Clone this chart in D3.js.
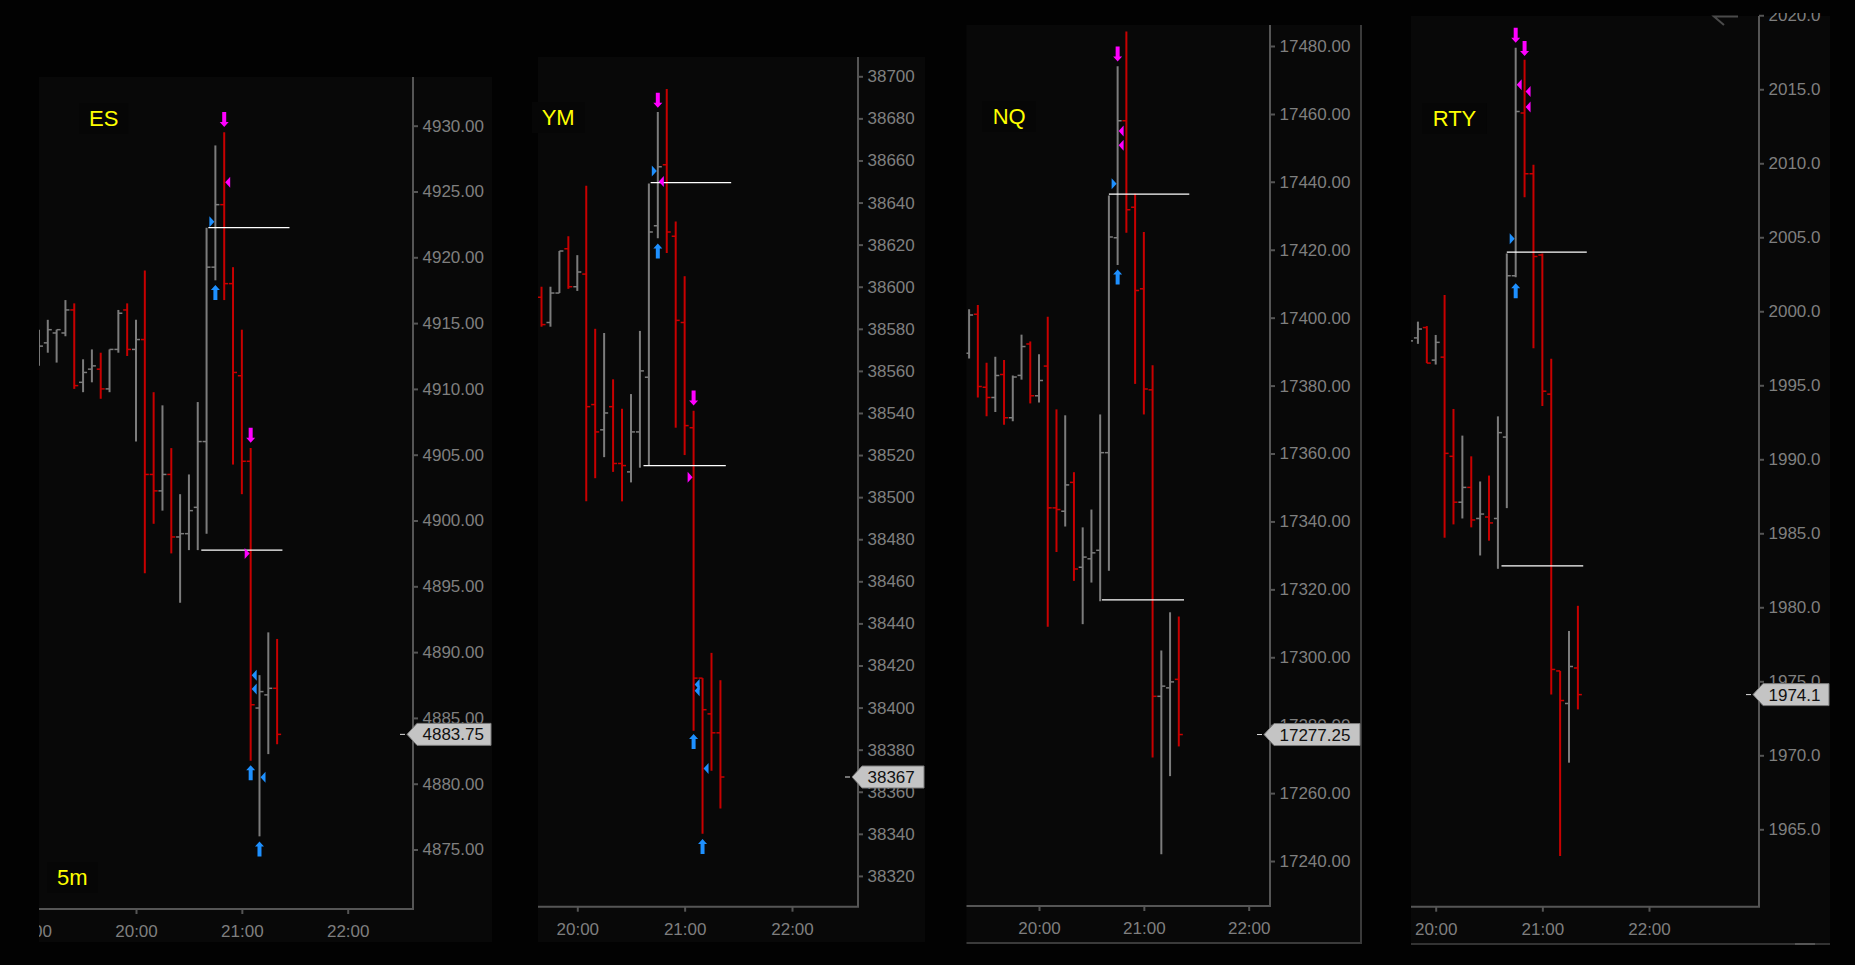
<!DOCTYPE html>
<html>
<head>
<meta charset="utf-8">
<script src="https://cdn.jsdelivr.net/npm/d3@7"></script>
<style>
html, body { margin: 0; padding: 0; background: #020202; overflow: hidden; }
svg { display: block; }
</style>
</head>
<body>
<svg id="chart" width="1855" height="965"></svg>
<script>
// 5 minute bars: [time, open, high, low, close]
const esBars = [
  ["19:05", 4913.0, 4914.5, 4911.75, 4913.25],
  ["19:10", 4913.5, 4915.25, 4912.75, 4914.5],
  ["19:15", 4914.25, 4914.5, 4912.0, 4914.5],
  ["19:20", 4914.25, 4916.75, 4914.0, 4916.0],
  ["19:25", 4916.0, 4916.5, 4910.0, 4910.25],
  ["19:30", 4910.5, 4912.25, 4909.75, 4911.25],
  ["19:35", 4911.5, 4913.0, 4910.5, 4911.75],
  ["19:40", 4911.5, 4912.75, 4909.25, 4910.0],
  ["19:45", 4910.0, 4913.0, 4909.75, 4913.0],
  ["19:50", 4913.0, 4916.0, 4912.75, 4915.75],
  ["19:55", 4916.0, 4916.5, 4912.5, 4913.0],
  ["20:00", 4913.0, 4915.25, 4906.0, 4913.75],
  ["20:05", 4913.75, 4919.0, 4896.0, 4903.5],
  ["20:10", 4903.5, 4909.75, 4899.75, 4902.25],
  ["20:15", 4902.25, 4908.75, 4900.75, 4903.5],
  ["20:20", 4903.5, 4905.5, 4897.5, 4898.75],
  ["20:25", 4898.75, 4902.0, 4893.75, 4899.0],
  ["20:30", 4899.0, 4903.5, 4897.75, 4900.75],
  ["20:35", 4901.0, 4909.0, 4897.75, 4906.0],
  ["20:40", 4906.0, 4922.25, 4899.0, 4919.25],
  ["20:45", 4919.25, 4928.5, 4918.25, 4924.0],
  ["20:50", 4924.0, 4929.5, 4916.75, 4918.0],
  ["20:55", 4918.0, 4919.25, 4904.25, 4911.25],
  ["21:00", 4911.0, 4914.5, 4902.0, 4904.5],
  ["21:05", 4904.5, 4905.5, 4881.75, 4886.0],
  ["21:10", 4885.75, 4888.25, 4876.0, 4887.0],
  ["21:15", 4886.75, 4891.5, 4882.25, 4887.25],
  ["21:20", 4887.25, 4891.0, 4883.0, 4883.75]
];
const ymBars = [
  ["19:40", 38595, 38600, 38581, 38582],
  ["19:45", 38583, 38600, 38581, 38597],
  ["19:50", 38597, 38617, 38597, 38617],
  ["19:55", 38618, 38624, 38599, 38600],
  ["20:00", 38600, 38615, 38598, 38607],
  ["20:05", 38606, 38648, 38498, 38543],
  ["20:10", 38544, 38580, 38509, 38531],
  ["20:15", 38532, 38578, 38519, 38540],
  ["20:20", 38543, 38556, 38512, 38516],
  ["20:25", 38516, 38542, 38498, 38515],
  ["20:30", 38512, 38549, 38507, 38531],
  ["20:35", 38531, 38579, 38514, 38560],
  ["20:40", 38557, 38649, 38515, 38626],
  ["20:45", 38629, 38683, 38623, 38657],
  ["20:50", 38658, 38694, 38616, 38626],
  ["20:55", 38624, 38631, 38533, 38584],
  ["21:00", 38583, 38605, 38520, 38534],
  ["21:05", 38533, 38541, 38389, 38414],
  ["21:10", 38414, 38414, 38340, 38399],
  ["21:15", 38397, 38426, 38370, 38388],
  ["21:20", 38388, 38413, 38352, 38367]
];
const nqBars = [
  ["19:20", 17389.5, 17402.5, 17388.0, 17400.75],
  ["19:25", 17401.0, 17403.75, 17376.5, 17379.75],
  ["19:30", 17379.5, 17386.75, 17371.0, 17376.5],
  ["19:35", 17376.5, 17388.5, 17372.25, 17383.0],
  ["19:40", 17383.25, 17387.5, 17368.5, 17370.5],
  ["19:45", 17370.5, 17383.0, 17369.5, 17382.5],
  ["19:50", 17383.0, 17395.0, 17381.75, 17391.5],
  ["19:55", 17392.25, 17393.0, 17374.75, 17377.0],
  ["20:00", 17377.0, 17389.25, 17375.0, 17381.5],
  ["20:05", 17385.75, 17400.25, 17309.0, 17344.0],
  ["20:10", 17344.0, 17373.0, 17331.0, 17343.5],
  ["20:15", 17343.0, 17371.25, 17338.5, 17350.75],
  ["20:20", 17351.5, 17354.5, 17322.5, 17326.0],
  ["20:25", 17326.5, 17338.25, 17309.75, 17329.5],
  ["20:30", 17329.0, 17343.5, 17322.0, 17330.75],
  ["20:35", 17331.5, 17371.5, 17316.5, 17360.25],
  ["20:40", 17360.25, 17436.0, 17325.5, 17423.75],
  ["20:45", 17423.5, 17474.0, 17415.5, 17458.0],
  ["20:50", 17458.0, 17484.25, 17425.0, 17431.75],
  ["20:55", 17432.5, 17436.5, 17380.5, 17408.0],
  ["21:00", 17408.5, 17425.25, 17371.5, 17379.0],
  ["21:05", 17378.75, 17386.0, 17270.5, 17288.5],
  ["21:10", 17288.5, 17302.0, 17242.0, 17291.5],
  ["21:15", 17291.0, 17313.25, 17265.0, 17292.75],
  ["21:20", 17293.5, 17312.0, 17273.75, 17277.25]
];
const rtyBars = [
  ["19:45", 1997.6, 1998.3, 1997.4, 1998.0],
  ["19:50", 1998.2, 1999.3, 1997.8, 1998.8],
  ["19:55", 1998.9, 1999.0, 1996.5, 1996.5],
  ["20:00", 1996.7, 1998.4, 1996.4, 1997.9],
  ["20:05", 1996.9, 2001.1, 1984.7, 1990.4],
  ["20:10", 1990.2, 1993.4, 1985.6, 1987.1],
  ["20:15", 1987.1, 1991.6, 1986.0, 1988.1],
  ["20:20", 1988.1, 1990.2, 1985.4, 1985.9],
  ["20:25", 1986.0, 1988.5, 1983.5, 1986.3],
  ["20:30", 1986.1, 1988.9, 1984.5, 1985.7],
  ["20:35", 1986.0, 1992.9, 1982.6, 1991.8],
  ["20:40", 1991.5, 2003.9, 1986.7, 2002.4],
  ["20:45", 2002.4, 2017.8, 2002.3, 2013.5],
  ["20:50", 2013.4, 2017.0, 2007.7, 2009.3],
  ["20:55", 2009.3, 2009.9, 1997.5, 2003.7],
  ["21:00", 2003.8, 2003.9, 1993.6, 1994.6],
  ["21:05", 1994.4, 1996.8, 1974.1, 1975.8],
  ["21:10", 1975.7, 1975.7, 1963.2, 1973.7],
  ["21:15", 1973.5, 1978.4, 1969.5, 1976.0],
  ["21:20", 1975.9, 1980.1, 1973.1, 1974.1]
];

// signal markers: [bar time, shape, side, price]
const esMarks = [
  ["20:50", "arrow", "sell", 4929.9],
  ["20:50", "left", "sell", 4925.7],
  ["20:45", "right", "buy", 4922.7],
  ["20:45", "arrow", "buy", 4917.9],
  ["21:05", "arrow", "sell", 4905.9],
  ["21:05", "right", "sell", 4897.5],
  ["21:05", "left", "buy", 4888.25],
  ["21:05", "left", "buy", 4887.2],
  ["21:05", "arrow", "buy", 4881.4],
  ["21:10", "left", "buy", 4880.5],
  ["21:10", "arrow", "buy", 4875.6]
];
const ymMarks = [
  ["20:45", "arrow", "sell", 38685],
  ["20:45", "right", "buy", 38655],
  ["20:45", "left", "sell", 38650],
  ["20:45", "arrow", "buy", 38620.5],
  ["21:05", "arrow", "sell", 38543.5],
  ["21:05", "right", "sell", 38509.5],
  ["21:05", "left", "buy", 38411],
  ["21:05", "left", "buy", 38408],
  ["21:05", "arrow", "buy", 38387.5],
  ["21:10", "left", "buy", 38371],
  ["21:10", "arrow", "buy", 38337.5]
];
const nqMarks = [
  ["20:45", "arrow", "sell", 17475.4],
  ["20:45", "left", "sell", 17455],
  ["20:45", "left", "sell", 17450.8],
  ["20:45", "right", "buy", 17439.4],
  ["20:45", "arrow", "buy", 17414.2]
];
const rtyMarks = [
  ["20:45", "arrow", "sell", 2018.15],
  ["20:50", "arrow", "sell", 2017.25],
  ["20:45", "left", "sell", 2015.3],
  ["20:50", "left", "sell", 2014.85],
  ["20:50", "left", "sell", 2013.8],
  ["20:45", "right", "buy", 2004.9],
  ["20:45", "arrow", "buy", 2001.9]
];

// horizontal levels: [from, to, price]
const esLevels = [["20:41", "21:27", 4922.25], ["20:37", "21:23", 4897.75]];
const ymLevels = [["20:41", "21:26", 38649.5], ["20:37", "21:23", 38515]];
const nqLevels = [["20:40", "21:26", 17436.4], ["20:36", "21:23", 17316.9]];
const rtyLevels = [["20:40", "21:25", 2004.0], ["20:37", "21:23", 1982.8]];

const panels = [
  {name: 'ES', bars: esBars, marks: esMarks, levels: esLevels, box: [39, 77, 492, 942],
   axisX: 413, axisY: 909, x20: 136, x22: 347.7, yDom: [4870.48, 4933.70], step: 5, fmt: '.2f',
   label: [89, 126], frame: 'timeframe'},
  {name: 'YM', bars: ymBars, marks: ymMarks, levels: ymLevels, box: [538, 57, 925, 942],
   axisX: 858, axisY: 906.7, x20: 577.3, x22: 792, yDom: [38305.37, 38709.17], step: 20, fmt: 'd',
   label: [541.7, 125]},
  {name: 'NQ', bars: nqBars, marks: nqMarks, levels: nqLevels, box: [966.5, 25, 1361, 943],
   axisX: 1270, axisY: 906, x20: 1039, x22: 1248.7, yDom: [17226.76, 17486.18], step: 20, fmt: '.2f',
   label: [992.7, 124], frame: 'box'},
  {name: 'RTY', bars: rtyBars, marks: rtyMarks, levels: rtyLevels, box: [1411, 16, 1830, 944],
   axisX: 1759, axisY: 906.7, x20: 1435.7, x22: 1649, yDom: [1959.77, 2019.95], step: 5, fmt: '.1f',
   label: [1432.7, 126], frame: 'bottom'}
];

const FONT = 'Arial, "Liberation Sans", sans-serif';
const UP = '#7c7c7c', DOWN = '#c80000';
const SIDE = {buy: '#1e90ff', sell: '#ff00ff'};
const parseT = d3.timeParse('%H:%M');

const svg = d3.select('#chart');
const defs = svg.append('defs');
svg.append('rect').attr('width', 1855).attr('height', 965).attr('fill', '#020202');

panels.forEach(drawPanel);

function drawPanel(p, i) {
  const [l, t, r, b] = p.box;
  const g = svg.append('g').attr('class', 'panel').attr('id', 'panel-' + p.name);

  g.append('rect').attr('x', l).attr('y', t).attr('width', r - l).attr('height', b - t)
    .attr('fill', '#080808');

  defs.append('clipPath').attr('id', 'pan' + i).append('rect')
    .attr('x', l).attr('y', t - 3).attr('width', r - l).attr('height', b - t + 3);
  defs.append('clipPath').attr('id', 'plot' + i).append('rect')
    .attr('x', l).attr('y', t).attr('width', p.axisX - l).attr('height', p.axisY - t);

  const x = d3.scaleTime().domain([parseT('20:00'), parseT('22:00')]).range([p.x20, p.x22]);
  const y = d3.scaleLinear().domain(p.yDom).range([p.axisY, t]);

  // symbol label + timeframe
  addLabel(g, p.name, p.label[0], p.label[1]);
  if (p.frame === 'timeframe') addLabel(g, '5m', l + 18, 885);

  // axes
  const axG = g.append('g').attr('clip-path', 'url(#pan' + i + ')');
  const yTop = y.invert(t - 10);
  const yVals = d3.range(Math.ceil(p.yDom[0] / p.step) * p.step, yTop, p.step)
    .filter(v => y(v) < p.axisY - 12);
  const yAx = axG.append('g').attr('transform', 'translate(' + p.axisX + ',0)')
    .call(d3.axisRight(y).tickValues(yVals).tickSize(5).tickPadding(4.5)
      .tickFormat(d3.format(p.fmt)));
  styleAxis(yAx);

  const hours = d3.timeHour.range(x.invert(l - 40), x.invert(p.axisX - 8));
  const xAx = axG.append('g').attr('transform', 'translate(0,' + p.axisY + ')')
    .call(d3.axisBottom(x).tickValues(hours).tickSize(5).tickPadding(11)
      .tickFormat(d3.timeFormat('%H:%M')));
  styleAxis(xAx);

  g.append('path')
    .attr('d', 'M' + l + ',' + p.axisY + 'H' + p.axisX + 'V' + t)
    .attr('fill', 'none').attr('stroke', '#555').attr('stroke-width', 2);

  // frame lines
  if (p.frame === 'box') {
    g.append('path').attr('d', 'M' + l + ',' + b + 'H' + r + 'V' + t)
      .attr('fill', 'none').attr('stroke', '#3a3a3a').attr('stroke-width', 2);
  }
  if (p.frame === 'bottom') {
    g.append('line').attr('x1', l).attr('x2', r).attr('y1', b).attr('y2', b)
      .attr('stroke', '#333').attr('stroke-width', 2);
    g.append('line').attr('x1', r - 35).attr('x2', r - 15).attr('y1', b).attr('y2', b)
      .attr('stroke', '#555').attr('stroke-width', 2);
    g.append('path').attr('d', 'M' + (p.axisX - 21) + ',' + (t + 0.5) + 'H' + (p.axisX - 45) + 'L' + (p.axisX - 35) + ',' + (t + 9))
      .attr('fill', 'none').attr('stroke', '#4a4a4a').attr('stroke-width', 2);
  }

  // bars
  const plot = g.append('g').attr('clip-path', 'url(#plot' + i + ')');
  const bars = plot.selectAll('g.bar').data(p.bars).enter().append('g').attr('class', 'bar')
    .attr('stroke', d => d[4] >= d[1] ? UP : DOWN).attr('stroke-width', 2);
  bars.append('line')
    .attr('x1', d => x(parseT(d[0]))).attr('x2', d => x(parseT(d[0])))
    .attr('y1', d => y(d[2])).attr('y2', d => y(d[3]));
  bars.append('line').attr('stroke-width', 1.5)
    .attr('x1', d => x(parseT(d[0])) - 4).attr('x2', d => x(parseT(d[0])))
    .attr('y1', d => y(d[1])).attr('y2', d => y(d[1]));
  bars.append('line').attr('stroke-width', 1.5)
    .attr('x1', d => x(parseT(d[0]))).attr('x2', d => x(parseT(d[0])) + 4)
    .attr('y1', d => y(d[4])).attr('y2', d => y(d[4]));

  // levels
  plot.selectAll('line.level').data(p.levels).enter().append('line').attr('class', 'level')
    .attr('x1', d => x(parseT(d[0]))).attr('x2', d => x(parseT(d[1])))
    .attr('y1', d => y(d[2])).attr('y2', d => y(d[2]))
    .attr('stroke', '#fff').attr('stroke-width', 1.3);

  // markers
  plot.selectAll('path.mark').data(p.marks).enter().append('path').attr('class', 'mark')
    .attr('fill', d => SIDE[d[2]])
    .attr('d', d => markPath(d[1], d[2], x(parseT(d[0])), y(d[3])));

  // last price tag
  const last = p.bars[p.bars.length - 1][4];
  const ly = y(last), ax = p.axisX;
  g.append('line').attr('x1', ax - 13).attr('x2', ax - 8).attr('y1', ly).attr('y2', ly)
    .attr('stroke', '#ddd').attr('stroke-width', 1);
  g.append('path')
    .attr('d', 'M' + (ax - 6) + ',' + ly + 'L' + (ax + 4) + ',' + (ly - 11) + 'H' + (r - 1) +
      'V' + (ly + 11) + 'H' + (ax + 4) + 'Z')
    .attr('fill', '#c4c4c4').attr('stroke', '#7a7a7a').attr('stroke-width', 1);
  g.append('text').attr('x', ax + 9.5).attr('y', ly + 6)
    .attr('font-family', FONT).attr('font-size', 17).attr('fill', '#111')
    .text(d3.format(p.fmt === 'd' ? 'd' : '.' + (p.fmt === '.1f' ? 1 : 2) + 'f')(last));
}

function addLabel(g, txt, x, y) {
  const lg = g.append('g');
  const bg = lg.append('rect').attr('fill', '#060606');
  const tx = lg.append('text').attr('x', x).attr('y', y)
    .attr('font-family', FONT).attr('font-size', 22).attr('fill', '#ffff00').text(txt);
  const bb = tx.node().getBBox();
  bg.attr('x', bb.x - 10).attr('y', bb.y - 3).attr('width', bb.width + 20).attr('height', bb.height + 6);
}

function styleAxis(sel) {
  sel.select('.domain').remove();
  sel.attr('color', '#555');
  sel.selectAll('.tick line').attr('stroke-width', 2);
  sel.selectAll('.tick text').attr('fill', '#7f7f7f')
    .attr('font-family', FONT).attr('font-size', 17);
}

function markPath(shape, side, bx, py) {
  if (shape === 'arrow') {
    const s = side === 'sell' ? -1 : 1;
    return 'M' + bx + ',' + py +
      'L' + (bx - 4.5) + ',' + (py + s * 5) +
      'L' + (bx - 2) + ',' + (py + s * 5) +
      'L' + (bx - 2) + ',' + (py + s * 15) +
      'L' + (bx + 2) + ',' + (py + s * 15) +
      'L' + (bx + 2) + ',' + (py + s * 5) +
      'L' + (bx + 4.5) + ',' + (py + s * 5) + 'Z';
  }
  if (shape === 'left') {
    return 'M' + (bx + 1) + ',' + py + 'L' + (bx + 6) + ',' + (py - 5.5) + 'L' + (bx + 6) + ',' + (py + 5.5) + 'Z';
  }
  return 'M' + (bx - 1) + ',' + py + 'L' + (bx - 6) + ',' + (py - 5.5) + 'L' + (bx - 6) + ',' + (py + 5.5) + 'Z';
}
</script>
</body>
</html>
